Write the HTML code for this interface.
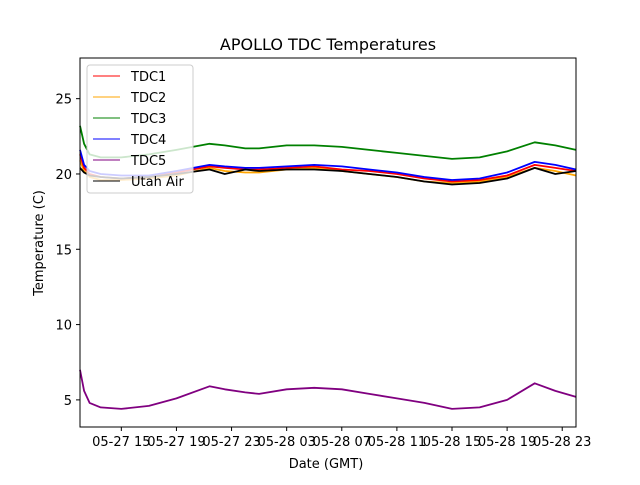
<!DOCTYPE html>
<html><head><meta charset="utf-8"><style>
body{margin:0;background:#fff;font-family:"Liberation Sans","DejaVu Sans",sans-serif}
svg text{font-family:"DejaVu Sans","Liberation Sans",sans-serif}
</style></head><body>
<svg id="chart" width="640" height="480" viewBox="0 0 640 480">
<rect x="0" y="0" width="640" height="480" fill="#fff"/>
<text x="328" y="50" font-size="16" text-anchor="middle">APOLLO TDC Temperatures</text>
<g id="plot"></g>
<g id="axes"></g>
<text x="326" y="468" font-size="13" text-anchor="middle">Date (GMT)</text>
<text x="0" y="0" font-size="13" text-anchor="middle" transform="translate(43,243) rotate(-90)">Temperature (C)</text>
<g id="legend"></g>
</svg>
<script>
const xTicks=[15,19,23,27,31,35,39,43,47];
const xTickLabels=["05-27 15","05-27 19","05-27 23","05-28 03","05-28 07","05-28 11","05-28 15","05-28 19","05-28 23"];
const yTicks=[5,10,15,20,25];
const seriesNames=["TDC1","TDC2","TDC3","TDC4","TDC5","Utah Air"];
const seriesColors=["red","orange","green","blue","purple","black"];
const hours=[12,12.3,12.7,13.5,15,17,19,21.4,22.5,24,25,27,29,31,33,35,37,39,41,43,45,46.5,48];
const tdc1=[21.3,20.4,20.0,19.8,19.7,19.8,20.1,20.5,20.4,20.3,20.3,20.4,20.5,20.3,20.2,20.0,19.7,19.5,19.6,19.9,20.6,20.4,20.2];
const tdc2=[20.9,20.2,19.8,19.6,19.6,19.7,19.9,20.4,20.2,20.1,20.1,20.3,20.4,20.2,20.0,19.8,19.5,19.4,19.5,19.8,20.4,20.2,19.9];
const tdc3=[23.2,22.0,21.3,21.1,21.1,21.3,21.6,22.0,21.9,21.7,21.7,21.9,21.9,21.8,21.6,21.4,21.2,21.0,21.1,21.5,22.1,21.9,21.6];
const tdc4=[21.6,20.6,20.2,20.0,19.9,19.9,20.2,20.6,20.5,20.4,20.4,20.5,20.6,20.5,20.3,20.1,19.8,19.6,19.7,20.1,20.8,20.6,20.3];
const tdc5=[7.0,5.6,4.8,4.5,4.4,4.6,5.1,5.9,5.7,5.5,5.4,5.7,5.8,5.7,5.4,5.1,4.8,4.4,4.5,5.0,6.1,5.6,5.2];
const utahAir=[20.4,20.1,19.9,19.8,19.7,19.8,20.0,20.3,20.0,20.3,20.2,20.3,20.3,20.2,20.0,19.8,19.5,19.3,19.4,19.7,20.4,20.0,20.2];
const allSeries=[tdc1,tdc2,tdc3,tdc4,tdc5,utahAir];
const drawOrder=[1,0,3,5,2,4];
const X0=80,X1=576,Y0=58,Y1=427,xmin=12,xmax=48,ymin=3.2,ymax=27.7;
function sx(h){return X0+(h-xmin)/(xmax-xmin)*(X1-X0);}
function sy(v){return Y1-(v-ymin)/(ymax-ymin)*(Y1-Y0);}
const NS="http://www.w3.org/2000/svg";
const plot=document.getElementById('plot');
drawOrder.forEach(i=>{
  const p=document.createElementNS(NS,'polyline');
  p.setAttribute('points',hours.map((h,j)=>sx(h).toFixed(1)+','+sy(allSeries[i][j]).toFixed(1)).join(' '));
  p.setAttribute('fill','none');p.setAttribute('stroke',seriesColors[i]);p.setAttribute('stroke-width','1.8');
  p.setAttribute('stroke-linejoin','round');
  
  
  plot.appendChild(p);
});
const axes=document.getElementById('axes');
let h='<rect x="80" y="58" width="496" height="369" fill="none" stroke="#000" stroke-width="1"/>';
xTicks.forEach((t,i)=>{const x=sx(t);h+=`<line x1="${x}" y1="427" x2="${x}" y2="431" stroke="#000"/><text x="${x}" y="446" font-size="13" text-anchor="middle">${xTickLabels[i]}</text>`;});
yTicks.forEach(t=>{const y=sy(t);h+=`<line x1="76" y1="${y}" x2="80" y2="${y}" stroke="#000"/><text x="72" y="${y+5}" font-size="13" text-anchor="end">${t}</text>`;});
axes.innerHTML=h;
const lg=document.getElementById('legend');
let l='<rect x="87" y="65" width="106" height="128" rx="3" fill="#fff" fill-opacity="0.8" stroke="#ccc"/>';
seriesNames.forEach((n,i)=>{const y=76+i*21;l+=`<line x1="93" y1="${y}" x2="120" y2="${y}" stroke="${seriesColors[i]}" stroke-width="1"/><text x="131" y="${y+5}" font-size="13">${n}</text>`;});
lg.innerHTML=l;
</script>
</body></html>
